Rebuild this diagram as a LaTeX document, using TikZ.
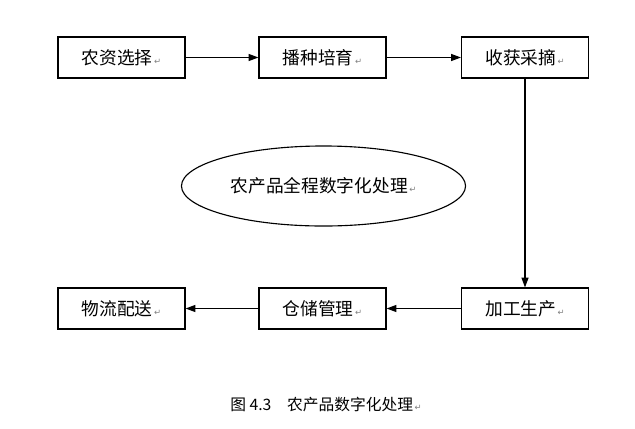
\documentclass[tikz,border=0pt]{standalone}
\usepackage{fontspec}
\setmainfont{Noto Sans CJK SC}
\newfontfamily\markfont{DejaVu Sans}
\usetikzlibrary{arrows.meta,shapes.geometric}
\newcommand{\ret}{{\markfont\fontsize{6}{7}\selectfont\color{gray}\,↵}}
\tikzset{
  stagebox/.style={draw,thick,minimum width=3.175cm,minimum height=1.025cm,font=\fontsize{12.6}{15}\selectfont},
  flow/.style={-{Triangle[length=7pt,width=5pt]},thick}
}
\begin{document}
\begin{tikzpicture}[x=0.025cm,y=-0.025cm]
\useasboundingbox (0,0) rectangle (635,428);

\node[stagebox] (nzxz) at (121.5,57.5) {农资选择\ret};%top row
\node[stagebox] (bzpy) at (322.5,57.5) {播种培育\ret};
\node[stagebox] (shcz) at (525,57.5) {收获采摘\ret};

\node[stagebox] (jgsc) at (525,308.5) {加工生产\ret};%bottom row
\node[stagebox] (ccgl) at (322.5,308.5) {仓储管理\ret};
\node[stagebox] (wlps) at (121.5,308.5) {物流配送\ret};

\node[draw,thick,ellipse,minimum width=7.1cm,minimum height=2.0cm,font=\fontsize{12.6}{15}\selectfont] (qc) at (323.5,186) {农产品全程数字化处理\ret};

\draw[flow] (nzxz) -- (bzpy);
\draw[flow] (bzpy) -- (shcz);
\draw[flow] (shcz) -- (jgsc);
\draw[flow] (jgsc) -- (ccgl);
\draw[flow] (ccgl) -- (wlps);

\node[font=\fontsize{11.2}{13}\selectfont] (cap) at (326,405) {图 4.3\quad 农产品数字化处理\ret};
\end{tikzpicture}
\end{document}
